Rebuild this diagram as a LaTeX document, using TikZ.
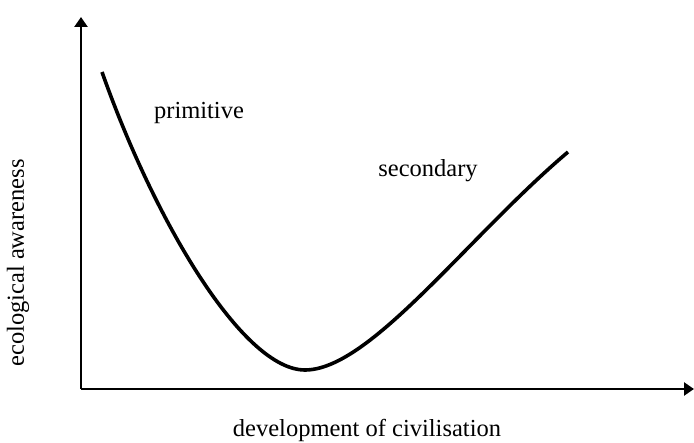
\documentclass[tikz,border=0pt]{standalone}
\usepackage{fontspec}
\setmainfont{Liberation Serif}
\usetikzlibrary{arrows.meta}

\begin{document}
\begin{tikzpicture}[
    x=1pt, y=-1pt,
    axis/.style={line width=2.4pt, -{Triangle[length=10pt,width=13pt]}},
    curve/.style={line width=3.6pt},
    lbl/.style={font=\fontsize{24.5}{28}\selectfont, inner sep=0pt}
]
\useasboundingbox (0,0) rectangle (694,443);

% Axes
\coordinate (o) at (81,389);
\coordinate (ytip) at (81,17);
\coordinate (xtip) at (694,389);
\draw[axis] (o) -- (ytip);
\draw[axis] (o) -- (xtip);

% Awareness curve
\coordinate (start) at (102,72);
\coordinate (low) at (305,370);
\coordinate (end) at (568,152);
\draw[curve] (start) .. controls (155,222) and (243,370) .. (low)
    .. controls (370,370) and (467,237.5) .. (end);

% Labels
\node[lbl] (prim) at (199,113) {primitive};
\node[lbl] (sec) at (428,171) {secondary};
\node[lbl, rotate=90] (ylab) at (18,263) {ecological awareness};
\node[lbl] (xlab) at (367,430) {development of civilisation};

\end{tikzpicture}
\end{document}
